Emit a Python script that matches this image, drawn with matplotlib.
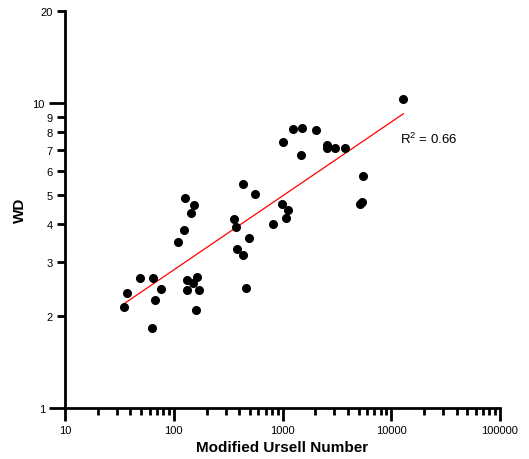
import numpy as np
import matplotlib
matplotlib.use("Agg")
import matplotlib.pyplot as plt
from matplotlib.ticker import FixedLocator, FixedFormatter, NullFormatter

plt.rcParams['font.family'] = ['Liberation Sans', 'DejaVu Sans']
plt.rcParams['mathtext.default'] = 'regular'

# modified Ursell number vs WD
ursell = [35.1, 37.2, 48.9, 64.5, 75.9, 67.7, 63.5, 108.7, 124.3, 126.9,
          153.6, 143.2, 133.2, 162.6, 149.4, 133.2, 169.5, 159.2, 358, 369.7,
          492, 384, 430.5, 461.8, 433.5, 558.6, 820.9, 989, 1131, 1077,
          1021, 1254, 1521, 2011, 1486, 2566, 2566, 3020, 3779, 5534,
          5420, 5105, 12910]
wd = [2.14, 2.39, 2.67, 2.67, 2.46, 2.26, 1.83, 3.51, 3.83, 4.88,
      4.63, 4.37, 2.62, 2.69, 2.57, 2.43, 2.43, 2.10, 4.17, 3.91,
      3.61, 3.33, 3.17, 2.47, 5.44, 5.04, 4.02, 4.65, 4.47, 4.19,
      7.45, 8.19, 8.29, 8.15, 6.74, 7.28, 7.12, 7.13, 7.11, 5.78,
      4.74, 4.67, 10.3]
r2_text = "R$^{2}$ = 0.66"

x = np.array(ursell)
y = np.array(wd)

# power-law fit in log space
b, a = np.polyfit(np.log10(x), np.log10(y), 1)
xf = np.array([x.min(), x.max()])
yf = 10 ** (a + b * np.log10(xf))

fig = plt.figure(figsize=(5.29, 4.6), dpi=100)
ax = fig.add_axes([0.1229, 0.1109, 0.8223, 0.8630])

ax.plot(xf, yf, color='red', lw=0.9, zorder=2)
ax.plot(x, y, 'o', color='black', ms=5.5, zorder=3)

ax.set_xscale('log')
ax.set_yscale('log')
ax.set_xlim(10, 100000)
ax.set_ylim(1, 20)

for s in ['top', 'right']:
    ax.spines[s].set_visible(False)
for s in ['left', 'bottom']:
    ax.spines[s].set_linewidth(2)

ax.xaxis.set_major_locator(FixedLocator([10, 100, 1000, 10000, 100000]))
ax.xaxis.set_major_formatter(FixedFormatter(['10', '100', '1000', '10000', '100000']))
xminor = [m * 10 ** k for k in range(1, 5) for m in range(2, 10)]
ax.xaxis.set_minor_locator(FixedLocator(xminor))
ax.xaxis.set_minor_formatter(NullFormatter())

ax.yaxis.set_major_locator(FixedLocator([1, 10]))
ax.yaxis.set_major_formatter(FixedFormatter(['1', '10']))
yminor = [2, 3, 4, 5, 6, 7, 8, 9, 20]
ax.yaxis.set_minor_locator(FixedLocator(yminor))
ax.yaxis.set_minor_formatter(FixedFormatter([str(v) for v in yminor]))

ax.tick_params(axis='x', which='major', length=9.5, width=2, direction='out', labelsize=8, pad=3)
ax.tick_params(axis='x', which='minor', length=5, width=2, direction='out')
ax.tick_params(axis='y', which='major', length=11.5, width=2, direction='out', labelsize=8, pad=3)
ax.tick_params(axis='y', which='minor', length=5.8, width=2, direction='out', labelsize=8, pad=3)

ax.set_xlabel('Modified Ursell Number', fontsize=11, fontweight='bold', labelpad=3)
ax.set_ylabel('WD', fontsize=11, fontweight='bold', labelpad=4)

ax.text(12000, 7.62, r2_text, fontsize=9.5, va='center', ha='left')

fig.savefig('out.png', dpi=100)
